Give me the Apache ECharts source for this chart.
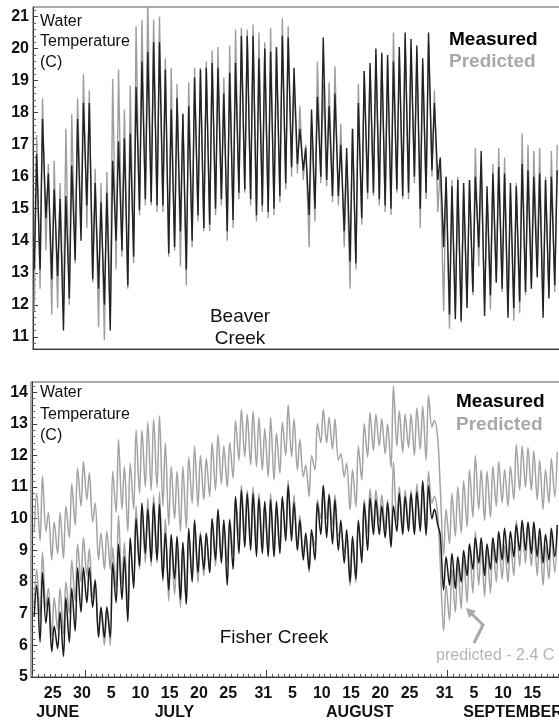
<!DOCTYPE html>
<html><head><meta charset="utf-8">
<script src="https://cdn.jsdelivr.net/npm/echarts@6/dist/echarts.min.js"></script>
<style>html,body{margin:0;padding:0;background:#fff}#c{width:559px;height:723px}</style>
</head><body><div id="c"></div>
<script>
// ---------- DATA (day k = June 22 + k) ----------
const startDate = 'June 22';
const hourOfMin = 8, hourOfMax = 18;

const beaverMeasuredMax = [16.7,17.8,16.1,15.6,15.3,15.4,16.35,17.8,18.3,18.3,15.8,15.2,15.5,16.5,17.1,17.2,17.35,18.8,19.6,19.9,20.2,20.2,19.35,18.1,18.45,17.95,18.2,19.1,19.35,19.4,19.55,19.4,18.6,19.25,19.55,20.4,20.4,20.4,19.7,20.0,19.9,20.05,20.4,20.35,19.4,17.5,16.9,18.1,18.5,20.35,18.2,18.6,17.0,16.9,17.5,18.3,19.3,19.55,20.0,19.85,19.8,19.6,20.05,20.5,20.3,20.1,19.7,20.5,18.3,16.6,16.0,15.7,15.9,15.8,15.9,16.0,16.8,15.7,16.1,16.3,16.1,15.8,15.7,16.4,16.2,16.0,16.1,15.9,16.0,16.2];
const beaverMeasuredMin = [13.1,13.1,14.7,12.8,12.9,11.2,12.2,13.4,14.0,15.1,12.8,12.5,12.0,11.2,14.0,13.7,12.6,13.5,14.95,15.3,15.2,15.1,15.1,13.6,13.8,14.3,13.1,14.0,14.8,14.4,14.5,15.0,15.3,14.3,14.65,15.5,15.6,15.3,14.8,15.1,14.9,15.0,15.4,15.8,16.3,16.4,16.2,14.8,15.0,16.0,15.9,15.4,15.4,14.3,13.35,13.3,14.7,15.5,15.5,15.3,15.1,15.0,15.6,15.4,15.5,16.0,15.0,15.5,16.2,15.9,13.8,11.7,11.55,11.5,11.9,12.4,13.8,11.65,12.3,12.7,12.5,11.6,11.9,12.1,12.4,12.5,12.85,11.6,12.2,12.6];
const beaverPredictedMax = [17.3,18.45,16.4,16.5,15.8,17.5,17.95,18.45,19.2,18.7,16.25,15.8,16.15,19.05,19.35,18.1,18.85,20.7,20.9,21.5,20.9,21.0,19.7,19.4,18.9,18.0,18.95,19.4,19.4,19.6,19.95,20.05,19.1,20.1,20.6,20.65,20.6,20.75,20.5,20.2,20.65,20.0,20.95,20.7,19.0,18.2,17.0,17.7,19.6,18.9,18.95,19.45,17.65,16.5,17.5,18.9,19.3,19.4,19.8,19.9,19.6,20.5,19.8,20.3,20.0,19.9,19.5,20.2,18.7,16.3,16.0,15.9,16.0,15.6,15.9,16.9,16.2,15.5,16.4,16.9,16.6,15.5,15.8,17.35,17.0,16.8,16.9,16.0,16.8,17.0];
const beaverPredictedMin = [11.8,12.5,13.7,11.7,11.9,11.8,12.0,13.3,14.3,14.4,12.7,11.3,10.9,11.6,13.1,13.5,12.5,13.3,14.8,15.1,15.1,14.9,14.9,13.5,13.7,13.2,12.6,13.8,14.6,14.3,14.3,14.8,15.1,14.0,14.4,15.3,15.5,15.1,14.6,14.9,14.7,14.8,15.2,15.6,16.0,16.1,15.9,13.8,14.6,15.8,15.7,15.2,15.1,13.8,12.5,13.1,14.5,15.3,15.4,15.1,14.9,14.8,15.5,15.3,15.3,15.8,14.4,15.3,16.0,14.9,11.8,11.25,11.8,11.45,12.0,12.3,13.2,12.0,11.85,12.7,12.4,11.8,11.5,11.75,12.3,12.6,13.2,11.8,12.3,12.4];

const fisherMeasuredMax = [7.9,8.3,7.5,6.6,7.05,7.5,7.8,8.45,8.45,8.45,8.05,7.2,7.2,8.6,9.2,8.8,9.4,10.0,10.5,10.3,10.5,10.45,9.55,9.5,9.45,9.25,9.7,9.96,9.49,9.54,10.0,10.3,9.96,9.96,10.7,10.9,10.8,10.8,10.65,10.55,10.6,10.55,10.7,11.05,10.5,9.95,9.55,9.65,10.5,11.05,10.75,10.6,9.95,9.65,9.45,9.95,10.5,10.65,10.6,10.4,10.5,10.4,10.8,10.7,10.8,10.85,11.2,11.05,10.3,9.5,8.8,8.9,8.8,9.0,9.2,9.4,9.4,9.2,9.4,9.6,9.7,9.6,9.8,9.95,9.9,9.9,9.7,9.5,9.7,9.8];
const fisherMeasuredMin = [6.9,6.1,6.7,5.8,5.9,5.65,6.1,6.45,7.05,7.35,7.2,6.25,6.25,6.25,7.35,7.45,6.75,7.8,8.5,8.9,8.65,8.7,8.1,7.75,8.1,7.45,7.3,8.0,8.3,8.4,8.3,8.7,8.6,7.9,8.4,8.9,9.1,9.0,8.8,8.9,8.8,8.8,8.9,9.3,9.3,9.0,8.7,8.4,8.7,9.5,9.4,9.2,9.0,8.6,8.0,8.1,8.6,9.0,9.5,9.5,9.4,9.1,9.6,9.5,9.6,9.5,9.6,9.5,10.0,9.8,7.75,7.9,7.8,8.0,8.2,8.4,8.6,8.2,8.4,8.6,8.7,8.6,8.8,9.0,9.0,8.9,8.8,8.6,8.7,8.8];
const fisherPredictedMax = [10.8,11.35,10.2,9.9,10.2,10.4,11.1,11.6,11.8,11.45,10.5,9.55,9.6,11.5,12.5,11.65,11.75,12.8,12.8,13.05,13.15,13.25,12.4,11.65,11.5,11.65,11.95,12.3,12.0,11.9,12.4,12.65,12.3,12.4,13.1,13.45,13.3,13.4,13.2,12.85,13.2,12.7,13.05,13.6,13.15,12.5,11.7,12.0,13.0,13.45,13.2,13.15,12.05,11.75,11.55,12.3,13.0,13.35,13.3,13.15,13.0,14.2,13.4,13.3,13.3,13.5,13.55,13.9,13.1,11.0,10.3,10.8,11.0,11.2,11.55,12.0,11.55,11.5,11.65,11.8,11.55,11.65,12.35,12.3,12.25,12.15,11.85,11.55,11.9,12.1];
const fisherPredictedMin = [9.6,9.3,9.6,8.7,8.9,8.75,9.4,9.8,10.4,10.6,9.9,8.7,8.4,8.4,10.2,10.3,9.6,10.3,10.8,11.0,10.9,11.0,10.4,9.8,10.0,9.6,9.7,10.49,10.38,10.6,10.7,10.9,11.1,11.0,11.28,11.85,11.96,11.7,11.64,11.54,11.33,11.22,11.44,12.0,11.96,11.54,11.33,10.7,11.54,12.4,12.4,12.2,11.85,11.33,10.28,10.38,11.22,11.96,12.15,12.3,12.05,11.6,12.3,12.1,12.25,12.0,12.2,11.85,12.9,12.5,8.85,9.2,9.45,9.55,9.75,10.05,10.3,9.95,10.05,10.4,10.5,10.4,10.6,10.9,11.0,10.9,10.6,10.3,10.5,10.7];
const predictedShift = 2.4;

const beaverTicks = [11,12,13,14,15,16,17,18,19,20,21];
const fisherTicks = [5,6,7,8,9,10,11,12,13,14];
const dayLabels = ['25','30','5','10','15','20','25','31','5','10','15','20','25','31','5','10','15'];
const dayLabelOffsets = [3,8,13,18,23,28,33,39,44,49,54,59,64,70,75,80,85];
const monthNames = ['JUNE','JULY','AUGUST','SEPTEMBER'];
const monthStartOffsets = [9,40,71];

// ---------- LAYOUT ----------
const FONT = 'Liberation Sans, Arial, Helvetica, sans-serif';
const PXD = 5.849;             // pixels per day
const X0 = 0.125;              // left edge of top panel (June 22, 03:00)
const topLeft = 33, botLeft = 31, rightEdge = 564;
const xMaxAll = X0 + (rightEdge - topLeft) / PXD;
const xMinBot = X0 - (topLeft - botLeft) / PXD;
const monthLabelAt = [4.35, 24.3, 56.0, 82.2];

function diurnal(mins, maxs, shift) {
  const s = shift || 0, out = [];
  for (let k = 0; k < mins.length; k++) {
    out.push([k + hourOfMin / 24, +(mins[k] - s).toFixed(2)]);
    out.push([k + hourOfMax / 24, +(maxs[k] - s).toFixed(2)]);
  }
  return out;
}
function minorVals(lo, hi, step) {
  const out = [];
  for (let v = lo; v <= hi + 1e-9; v += step) {
    const r = Math.round(v * 10) / 10;
    if (Math.abs(r - Math.round(r)) > 1e-6) out.push(r);
  }
  return out;
}
const dayBoundaries = Array.from({length: 92}, (_, i) => i);
const dayLabelPos = dayLabelOffsets.map(d => d + 0.5);

const axisColor = '#333';
const txt = '#111';

const chart = echarts.init(document.getElementById('c'));
const option = {
  animation: false,
  backgroundColor: '#fff',
  grid: [
    {left: topLeft, top: 7, width: rightEdge - topLeft, height: 342, show: true, borderColor: '#555', borderWidth: 1, containLabel: false, outerBoundsMode: 'none'},
    {left: botLeft, top: 382, width: rightEdge - botLeft, height: 295, show: true, borderColor: '#555', borderWidth: 1, containLabel: false, outerBoundsMode: 'none'}
  ],
  xAxis: [
    {gridIndex: 0, position: 'bottom', type: 'value', min: X0, max: xMaxAll, axisLine: {show: true, lineStyle: {color: axisColor}}, axisTick: {show: false}, axisLabel: {show: false}, splitLine: {show: false}},
    {gridIndex: 1, position: 'bottom', type: 'value', min: xMinBot, max: xMaxAll, axisLine: {show: true, lineStyle: {color: axisColor}},
      axisTick: {show: true, inside: true, length: 3, customValues: dayBoundaries, lineStyle: {color: '#555'}},
      axisLabel: {show: true, customValues: dayLabelPos, margin: 9, fontFamily: FONT, fontSize: 16, fontWeight: 'bold', color: txt,
        formatter: v => { const i = dayLabelPos.findIndex(p => Math.abs(p - v) < 1e-6); return i >= 0 ? dayLabels[i] : ''; }},
      splitLine: {show: false}},
    {gridIndex: 1, position: 'bottom', offset: 0, type: 'value', min: xMinBot, max: xMaxAll, axisLine: {show: false},
      axisTick: {show: true, inside: true, length: 7, customValues: monthStartOffsets, lineStyle: {color: '#444'}},
      axisLabel: {show: false}, splitLine: {show: false}},
    {gridIndex: 1, position: 'bottom', offset: 0, type: 'value', min: xMinBot, max: xMaxAll, axisLine: {show: false}, axisTick: {show: false},
      axisLabel: {show: true, customValues: monthLabelAt, margin: 28, fontFamily: FONT, fontSize: 16, fontWeight: 'bold', color: txt,
        formatter: v => { const i = monthLabelAt.findIndex(p => Math.abs(p - v) < 1e-6); return i >= 0 ? monthNames[i] : ''; }},
      splitLine: {show: false}}
  ],
  yAxis: [
    {gridIndex: 0, position: 'left', type: 'value', min: 10.62, max: 21.3, axisLine: {show: true, lineStyle: {color: axisColor}},
      axisTick: {show: true, inside: true, length: 5, customValues: beaverTicks, lineStyle: {color: '#444'}},
      axisLabel: {customValues: beaverTicks, margin: 4, fontFamily: FONT, fontSize: 16, fontWeight: 'bold', color: txt},
      splitLine: {show: false}},
    {gridIndex: 0, position: 'left', offset: 0, type: 'value', min: 10.62, max: 21.3, axisLine: {show: false},
      axisTick: {show: true, inside: true, length: 3, customValues: minorVals(10.8, 21.2, 0.2), lineStyle: {color: '#666'}},
      axisLabel: {show: false}, splitLine: {show: false}},
    {gridIndex: 1, position: 'left', type: 'value', min: 5, max: 14.32, axisLine: {show: true, lineStyle: {color: axisColor}},
      axisTick: {show: true, inside: true, length: 5, customValues: fisherTicks, lineStyle: {color: '#444'}},
      axisLabel: {customValues: fisherTicks, margin: 3, fontFamily: FONT, fontSize: 16, fontWeight: 'bold', color: txt},
      splitLine: {show: false}},
    {gridIndex: 1, position: 'left', offset: 0, type: 'value', min: 5, max: 14.32, axisLine: {show: false},
      axisTick: {show: true, inside: true, length: 3, customValues: minorVals(5.2, 14.2, 0.2), lineStyle: {color: '#666'}},
      axisLabel: {show: false}, splitLine: {show: false}}
  ],
  series: [
    {name: 'Beaver Predicted', type: 'line', xAxisIndex: 0, yAxisIndex: 0, symbol: 'none', clip: true,
      data: diurnal(beaverPredictedMin, beaverPredictedMax), lineStyle: {color: '#9e9e9e', width: 1.4}, z: 2},
    {name: 'Beaver Measured', type: 'line', xAxisIndex: 0, yAxisIndex: 0, symbol: 'none', clip: true,
      data: diurnal(beaverMeasuredMin, beaverMeasuredMax), lineStyle: {color: '#222', width: 1.4}, z: 3},
    {name: 'Fisher Predicted', type: 'line', xAxisIndex: 1, yAxisIndex: 2, symbol: 'none', smooth: 0.35, clip: true,
      data: diurnal(fisherPredictedMin, fisherPredictedMax), lineStyle: {color: '#a3a3a3', width: 1.5}, z: 2},
    {name: 'Fisher Predicted - 2.4', type: 'line', xAxisIndex: 1, yAxisIndex: 2, symbol: 'none', smooth: 0.35, clip: true,
      data: diurnal(fisherPredictedMin, fisherPredictedMax, predictedShift), lineStyle: {color: '#a3a3a3', width: 1.5}, z: 2},
    {name: 'Fisher Measured', type: 'line', xAxisIndex: 1, yAxisIndex: 2, symbol: 'none', smooth: 0.35, clip: true,
      data: diurnal(fisherMeasuredMin, fisherMeasuredMax), lineStyle: {color: '#1c1c1c', width: 1.5}, z: 3}
  ],
  graphic: [
    {type: 'text', left: 40, top: 11, style: {text: 'Water\nTemperature\n(C)', font: '16px ' + FONT, fill: txt, lineHeight: 20.5}, z: 10},
    {type: 'text', left: 40, top: 382, style: {text: 'Water\nTemperature\n(C)', font: '16px ' + FONT, fill: txt, lineHeight: 21.5}, z: 10},
    {type: 'text', x: 449, y: 40, style: {text: 'Measured', font: 'bold 19px ' + FONT, fill: '#000', verticalAlign: 'middle'}, z: 10},
    {type: 'text', x: 449, y: 62, style: {text: 'Predicted', font: 'bold 19px ' + FONT, fill: '#a8a8a8', verticalAlign: 'middle'}, z: 10},
    {type: 'text', x: 456, y: 401.5, style: {text: 'Measured', font: 'bold 19px ' + FONT, fill: '#000', verticalAlign: 'middle'}, z: 10},
    {type: 'text', x: 456, y: 425, style: {text: 'Predicted', font: 'bold 19px ' + FONT, fill: '#a8a8a8', verticalAlign: 'middle'}, z: 10},
    {type: 'text', x: 240, y: 317, style: {text: 'Beaver', font: '19px ' + FONT, fill: txt, align: 'center', verticalAlign: 'middle'}, z: 10},
    {type: 'text', x: 240, y: 339, style: {text: 'Creek', font: '19px ' + FONT, fill: txt, align: 'center', verticalAlign: 'middle'}, z: 10},
    {type: 'text', x: 274, y: 638, style: {text: 'Fisher Creek', font: '19px ' + FONT, fill: txt, align: 'center', verticalAlign: 'middle'}, z: 10},
    {type: 'text', x: 436, y: 655.5, style: {text: 'predicted - 2.4 C', font: '16px ' + FONT, fill: '#b4b4b4', verticalAlign: 'middle'}, z: 10},
    {type: 'polyline', shape: {points: [[471, 613], [483, 625], [474, 643]]}, style: {stroke: '#a8a8a8', lineWidth: 3, fill: null}, z: 10},
    {type: 'polygon', shape: {points: [[466, 608], [476, 611], [469, 618]]}, style: {fill: '#a8a8a8'}, z: 10}
  ]
};
chart.setOption(option);
</script>
</body></html>
